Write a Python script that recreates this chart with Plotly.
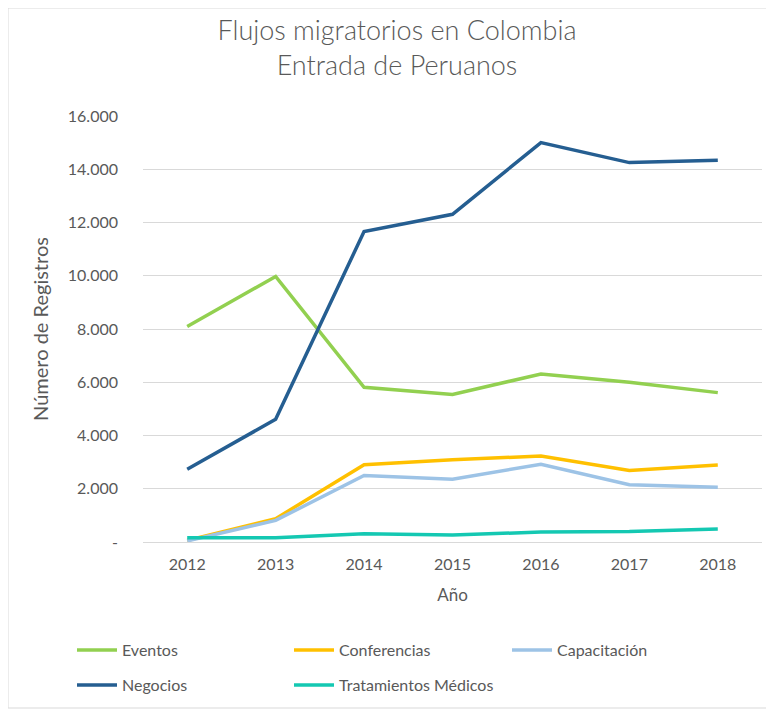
import plotly.graph_objects as go

anios = ["2012", "2013", "2014", "2015", "2016", "2017", "2018"]

eventos = [8090, 9975, 5810, 5540, 6310, 6000, 5610]
conferencias = [60, 875, 2900, 3090, 3230, 2690, 2890]
capacitacion = [40, 810, 2500, 2360, 2920, 2150, 2060]
negocios = [2730, 4610, 11660, 12310, 15000, 14250, 14340]
tratamientos = [160, 160, 310, 260, 375, 390, 490]

y_ticks = [0, 2000, 4000, 6000, 8000, 10000, 12000, 14000, 16000]
y_labels = ["-", "2.000", "4.000", "6.000", "8.000", "10.000", "12.000", "14.000", "16.000"]

FONT = "Lato, 'Open Sans', sans-serif"
GRAY = "#595959"

# the page body adds an 8px margin, so the figure is 8px smaller
# and every pixel position below is in screen pixels minus 8
OFF = 8
W, H = 774 - OFF, 709 - OFF
L, R, T, B = 143 - OFF, 12, 116 - OFF, 709 - 542
PW, PH = W - L - R, H - T - B


def px_x(x):
    return (x - OFF - L) / PW


def px_y(y):
    return (H - B - (y - OFF)) / PH


fig = go.Figure()

series = [
    ("Eventos", eventos, "#92d050", "legend", 72, 650),
    ("Conferencias", conferencias, "#ffc000", "legend2", 289, 650),
    ("Capacitación", capacitacion, "#9dc3e6", "legend3", 507, 650),
    ("Negocios", negocios, "#255e91", "legend4", 72, 685),
    ("Tratamientos Médicos", tratamientos, "#14c8b2", "legend5", 289, 685),
]
legends = {}
for name, vals, color, leg, lx, ly in series:
    fig.add_trace(go.Scatter(
        x=anios, y=vals, name=name, mode="lines",
        line=dict(color=color, width=3.5),
        legend=leg, showlegend=True,
    ))
    legends[leg] = dict(
        x=px_x(lx), y=px_y(ly), xanchor="left", yanchor="middle",
        orientation="h", itemwidth=40,
        font=dict(family=FONT, size=16, color=GRAY),
        bgcolor="rgba(0,0,0,0)",
    )

fig.update_layout(
    width=W, height=H, showlegend=True,
    paper_bgcolor="white", plot_bgcolor="white",
    margin=dict(l=L, r=R, t=T, b=B, autoexpand=False),
    font=dict(family=FONT, color=GRAY),
    title=dict(
        text="Flujos migratorios en Colombia<br>Entrada de Peruanos",
        x=(397 - OFF) / W, xanchor="center", xref="container",
        y=1 - (40 - OFF) / H, yanchor="middle", yref="container",
        font=dict(family=FONT, size=27, color=GRAY, weight=300),
    ),
    xaxis=dict(
        type="category", range=[-0.5, 6.5],
        showgrid=False, showline=True, linecolor="#d9d9d9", linewidth=1,
        ticks="", ticklabelstandoff=8,
        tickfont=dict(family=FONT, size=16, color=GRAY),
        title=dict(text="Año", font=dict(family=FONT, size=17, color=GRAY), standoff=16),
    ),
    yaxis=dict(
        range=[0, 16000], tickvals=y_ticks, ticktext=y_labels,
        showgrid=True, gridcolor="#d9d9d9", gridwidth=1, zeroline=False,
        ticks="", ticklabelstandoff=24,
        tickfont=dict(family=FONT, size=16, color=GRAY),
        title=dict(text="Número de Registros", font=dict(family=FONT, size=20, color=GRAY), standoff=13),
    ),
    shapes=[dict(
        type="rect", xref="paper", yref="paper",
        x0=px_x(OFF), x1=px_x(773), y0=px_y(708), y1=px_y(OFF),
        line=dict(color="#d9d9d9", width=1), fillcolor="rgba(0,0,0,0)", layer="below",
    )],
    **legends,
)

fig.write_html("out.html")
